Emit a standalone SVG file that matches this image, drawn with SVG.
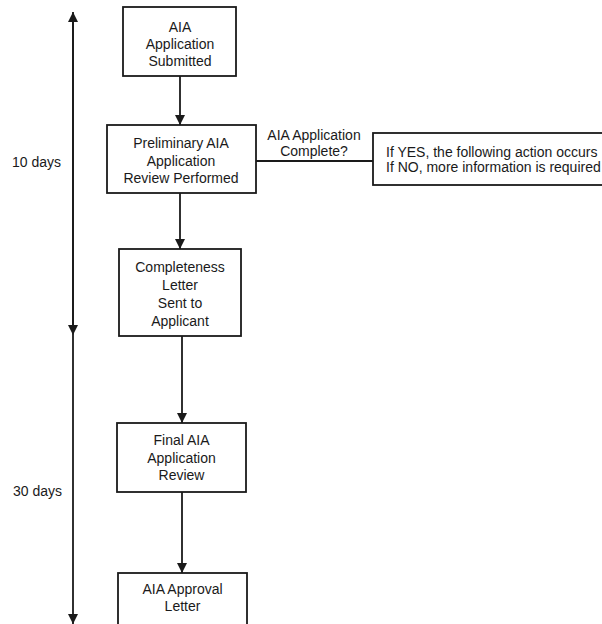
<svg xmlns="http://www.w3.org/2000/svg" width="602" height="624" viewBox="0 0 602 624">
<defs>
<marker id="ah" viewBox="0 0 10 10" refX="10" refY="5" markerWidth="10" markerHeight="10" markerUnits="userSpaceOnUse" orient="auto">
<path d="M0,0 L10,5 L0,10 Z" fill="#1a1a1a"/>
</marker>
<style>
.box{fill:#fff;stroke:#1a1a1a;stroke-width:1.8}
.ln{fill:none;stroke:#1a1a1a;stroke-width:1.8}
text{font-family:"Liberation Sans",Arial,sans-serif;font-size:14px;fill:#1a1a1a}
.c{text-anchor:middle}
</style>
</defs>
<rect width="602" height="624" fill="#fff"/>
<g id="connectors">
<line class="ln" x1="180" y1="76" x2="180" y2="125" marker-end="url(#ah)"/>
<line class="ln" x1="180" y1="193" x2="180" y2="249" marker-end="url(#ah)"/>
<line class="ln" x1="182" y1="336" x2="182" y2="423" marker-end="url(#ah)"/>
<line class="ln" x1="182" y1="492" x2="182" y2="573" marker-end="url(#ah)"/>
<line class="ln" x1="256" y1="161" x2="373" y2="161"/>
<text class="c" x="314" y="140">AIA Application</text>
<text class="c" x="314" y="156">Complete?</text>
</g>
<g id="timeline">
<line class="ln" x1="73" y1="330" x2="73" y2="12" marker-end="url(#ah)"/>
<line class="ln" x1="73" y1="20" x2="73" y2="335" marker-end="url(#ah)"/>
<line class="ln" x1="73" y1="335" x2="73" y2="624" marker-end="url(#ah)"/>
<text x="12" y="167">10 days</text>
<text x="13" y="496">30 days</text>
</g>
<g id="n1">
<rect class="box" x="123" y="7" width="113" height="69"/>
<text class="c" x="180" y="32">AIA</text>
<text class="c" x="180" y="49">Application</text>
<text class="c" x="180" y="66">Submitted</text>
</g>
<g id="n2">
<rect class="box" x="107" y="125" width="149" height="68"/>
<text class="c" x="181" y="148">Preliminary AIA</text>
<text class="c" x="181" y="166">Application</text>
<text class="c" x="181" y="183">Review Performed</text>
</g>
<g id="n3">
<rect class="box" x="373" y="133" width="232" height="52"/>
<text x="386" y="157">If YES, the following action occurs</text>
<text x="386" y="172">If NO, more information is required</text>
</g>
<g id="n4">
<rect class="box" x="119" y="249" width="122" height="87"/>
<text class="c" x="180" y="272">Completeness</text>
<text class="c" x="180" y="290">Letter</text>
<text class="c" x="180" y="308">Sent to</text>
<text class="c" x="180" y="326">Applicant</text>
</g>
<g id="n5">
<rect class="box" x="117" y="423" width="129" height="69"/>
<text class="c" x="181.5" y="445">Final AIA</text>
<text class="c" x="181.5" y="463">Application</text>
<text class="c" x="181.5" y="480">Review</text>
</g>
<g id="n6">
<rect class="box" x="118" y="573" width="129" height="60"/>
<text class="c" x="182.5" y="594">AIA Approval</text>
<text class="c" x="182.5" y="611">Letter</text>
</g>
</svg>
